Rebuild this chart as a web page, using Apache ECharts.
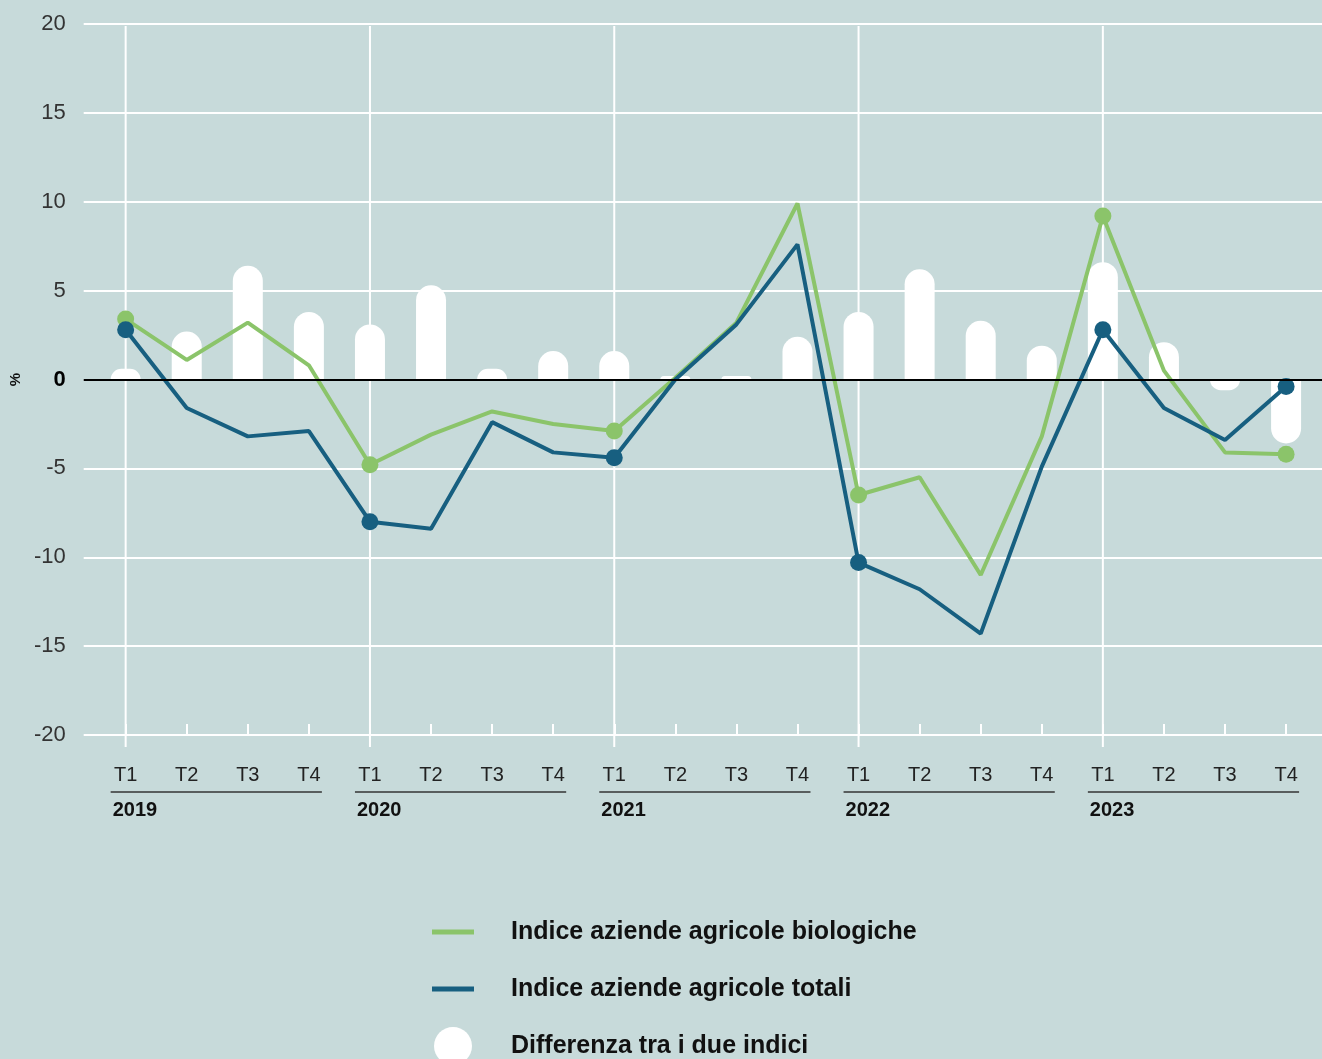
<!DOCTYPE html>
<html>
<head>
<meta charset="utf-8">
<script src="https://cdn.jsdelivr.net/npm/echarts@6/dist/echarts.min.js"></script>
<style>
  html, body { margin: 0; padding: 0; background: #c7dada; }
  #chart { width: 1322px; height: 1059px; }
</style>
</head>
<body>
<div id="chart"></div>
<script>
// dati (variazioni %, trimestri 2019-2023)
var years = ['2019', '2020', '2021', '2022', '2023'];
var quarters = ['T1', 'T2', 'T3', 'T4'];
var bio = [3.4, 1.1, 3.2, 0.8, -4.8, -3.1, -1.8, -2.5, -2.9, 0.1, 3.2, 9.9, -6.5, -5.5, -11.0, -3.2, 9.2, 0.5, -4.1, -4.2];
var totali = [2.8, -1.6, -3.2, -2.9, -8.0, -8.4, -2.4, -4.1, -4.4, 0.0, 3.1, 7.6, -10.3, -11.8, -14.3, -4.9, 2.8, -1.6, -3.4, -0.4];
var diff = [0.6, 2.7, 6.4, 3.8, 3.1, 5.3, 0.6, 1.6, 1.6, 0.2, 0.2, 2.4, 3.8, 6.2, 3.3, 1.9, 6.6, 2.1, -0.6, -3.6];
var marked = [0, 4, 8, 12, 16, 19];

var nameBio = 'Indice aziende agricole biologiche';
var nameTot = 'Indice aziende agricole totali';
var nameDiff = 'Differenza tra i due indici';

var GREEN = '#8bc46a', BLUE = '#175f80';
var FONT = "'Liberation Sans', Arial, sans-serif";
var X_MIN = -0.687, X_MAX = 19.588;
var Y_MIN = -20, Y_MAX = 20;

var idx = bio.map(function (v, i) { return i; });

function lineData(arr) {
	return arr.map(function (v, i) {
		if (marked.indexOf(i) >= 0) return { value: [i, v], symbol: 'circle', symbolSize: 17 };
		return { value: [i, v], symbol: 'none' };
	});
}

var barData = diff.map(function (v, i) {
	return { value: [i, v], itemStyle: { borderRadius: v >= 0 ? [15, 15, 0, 0] : [0, 0, 15, 15] } };
});

var lineIcon = 'path://M0,0M0,16.5L42,16.5L42,21.5L0,21.5ZM42,38';

var chart = echarts.init(document.getElementById('chart'));

var option = {
	backgroundColor: '#c7dada',
	animation: false,
	textStyle: { fontFamily: FONT },
	grid: { left: 82, right: 0, top: 24, bottom: 324, containLabel: false },
	xAxis: {
		type: 'value', min: X_MIN, max: X_MAX,
		axisLine: { show: false, onZero: false },
		splitLine: { show: false },
		axisTick: { show: true, inside: true, length: 11, customValues: idx,
			lineStyle: { color: '#ffffff', width: 2 } },
		axisLabel: { customValues: idx, margin: 30, fontSize: 20, color: '#222',
			fontFamily: FONT,
			formatter: function (v) { return quarters[Math.round(v) % 4]; } }
	},
	yAxis: {
		type: 'value', min: Y_MIN, max: Y_MAX, interval: 5,
		name: '%', nameLocation: 'middle', nameGap: 50, nameRotate: 90,
		nameTextStyle: { fontSize: 15, fontWeight: 'bold', color: '#111', fontFamily: FONT },
		axisLine: { show: false }, axisTick: { show: false },
		splitLine: { lineStyle: { color: '#ffffff', width: 2 } },
		axisLabel: { margin: 18, fontSize: 22, color: '#333', fontFamily: FONT,
			formatter: function (v) { return v === 0 ? '{z|0}' : String(v); },
			rich: { z: { fontSize: 22, fontWeight: 'bold', color: '#000', fontFamily: FONT } } }
	},
	legend: {
		orient: 'vertical', left: 432, top: 913, height: 220,
		padding: 0,
		itemWidth: 42, itemHeight: 38, itemGap: 19,
		selectedMode: false,
		itemStyle: { borderWidth: 0 },
		textStyle: { fontSize: 25, fontWeight: 'bold', color: '#111', fontFamily: FONT,
			padding: [0, 0, 0, 32] },
		data: [
			{ name: nameBio, icon: lineIcon },
			{ name: nameTot, icon: lineIcon },
			{ name: nameDiff, icon: 'circle' }
		]
	},
	series: [
		{
			// linee verticali T1, anni e sottolineature
			type: 'custom', z: 1, silent: true,
			data: years.map(function (y, k) { return [k * 4, 0]; }),
			renderItem: function (params, api) {
				var s = api.value(0);
				var top = api.coord([s, Y_MAX]);
				var bot = api.coord([s, Y_MIN]);
				var end = api.coord([s + 3, Y_MIN]);
				return { type: 'group', children: [
					{ type: 'line', shape: { x1: top[0], y1: top[1] + 2, x2: bot[0], y2: bot[1] + 12 },
						style: { stroke: '#ffffff', lineWidth: 2 } },
					{ type: 'line', shape: { x1: bot[0] - 15, y1: bot[1] + 57, x2: end[0] + 13, y2: end[1] + 57 },
						style: { stroke: '#333', lineWidth: 1.5 } },
					{ type: 'text', x: bot[0] - 13, y: bot[1] + 65,
						style: { text: years[params.dataIndex], fontSize: 20, fontWeight: 'bold',
							fill: '#111', fontFamily: FONT } }
				] };
			}
		},
		{
			name: nameDiff, type: 'bar', z: 2, barWidth: 30,
			itemStyle: { color: '#ffffff' },
			data: barData,
			markLine: {
				silent: true, symbol: 'none', label: { show: false },
				lineStyle: { color: '#000', width: 2, type: 'solid' },
				data: [{ yAxis: 0 }]
			}
		},
		{
			name: nameBio, type: 'line', z: 3,
			color: GREEN,
			lineStyle: { width: 4, color: GREEN },
			itemStyle: { color: GREEN },
			data: lineData(bio)
		},
		{
			name: nameTot, type: 'line', z: 4,
			color: BLUE,
			lineStyle: { width: 4, color: BLUE },
			itemStyle: { color: BLUE },
			data: lineData(totali)
		}
	]
};

chart.setOption(option);
</script>
</body>
</html>
